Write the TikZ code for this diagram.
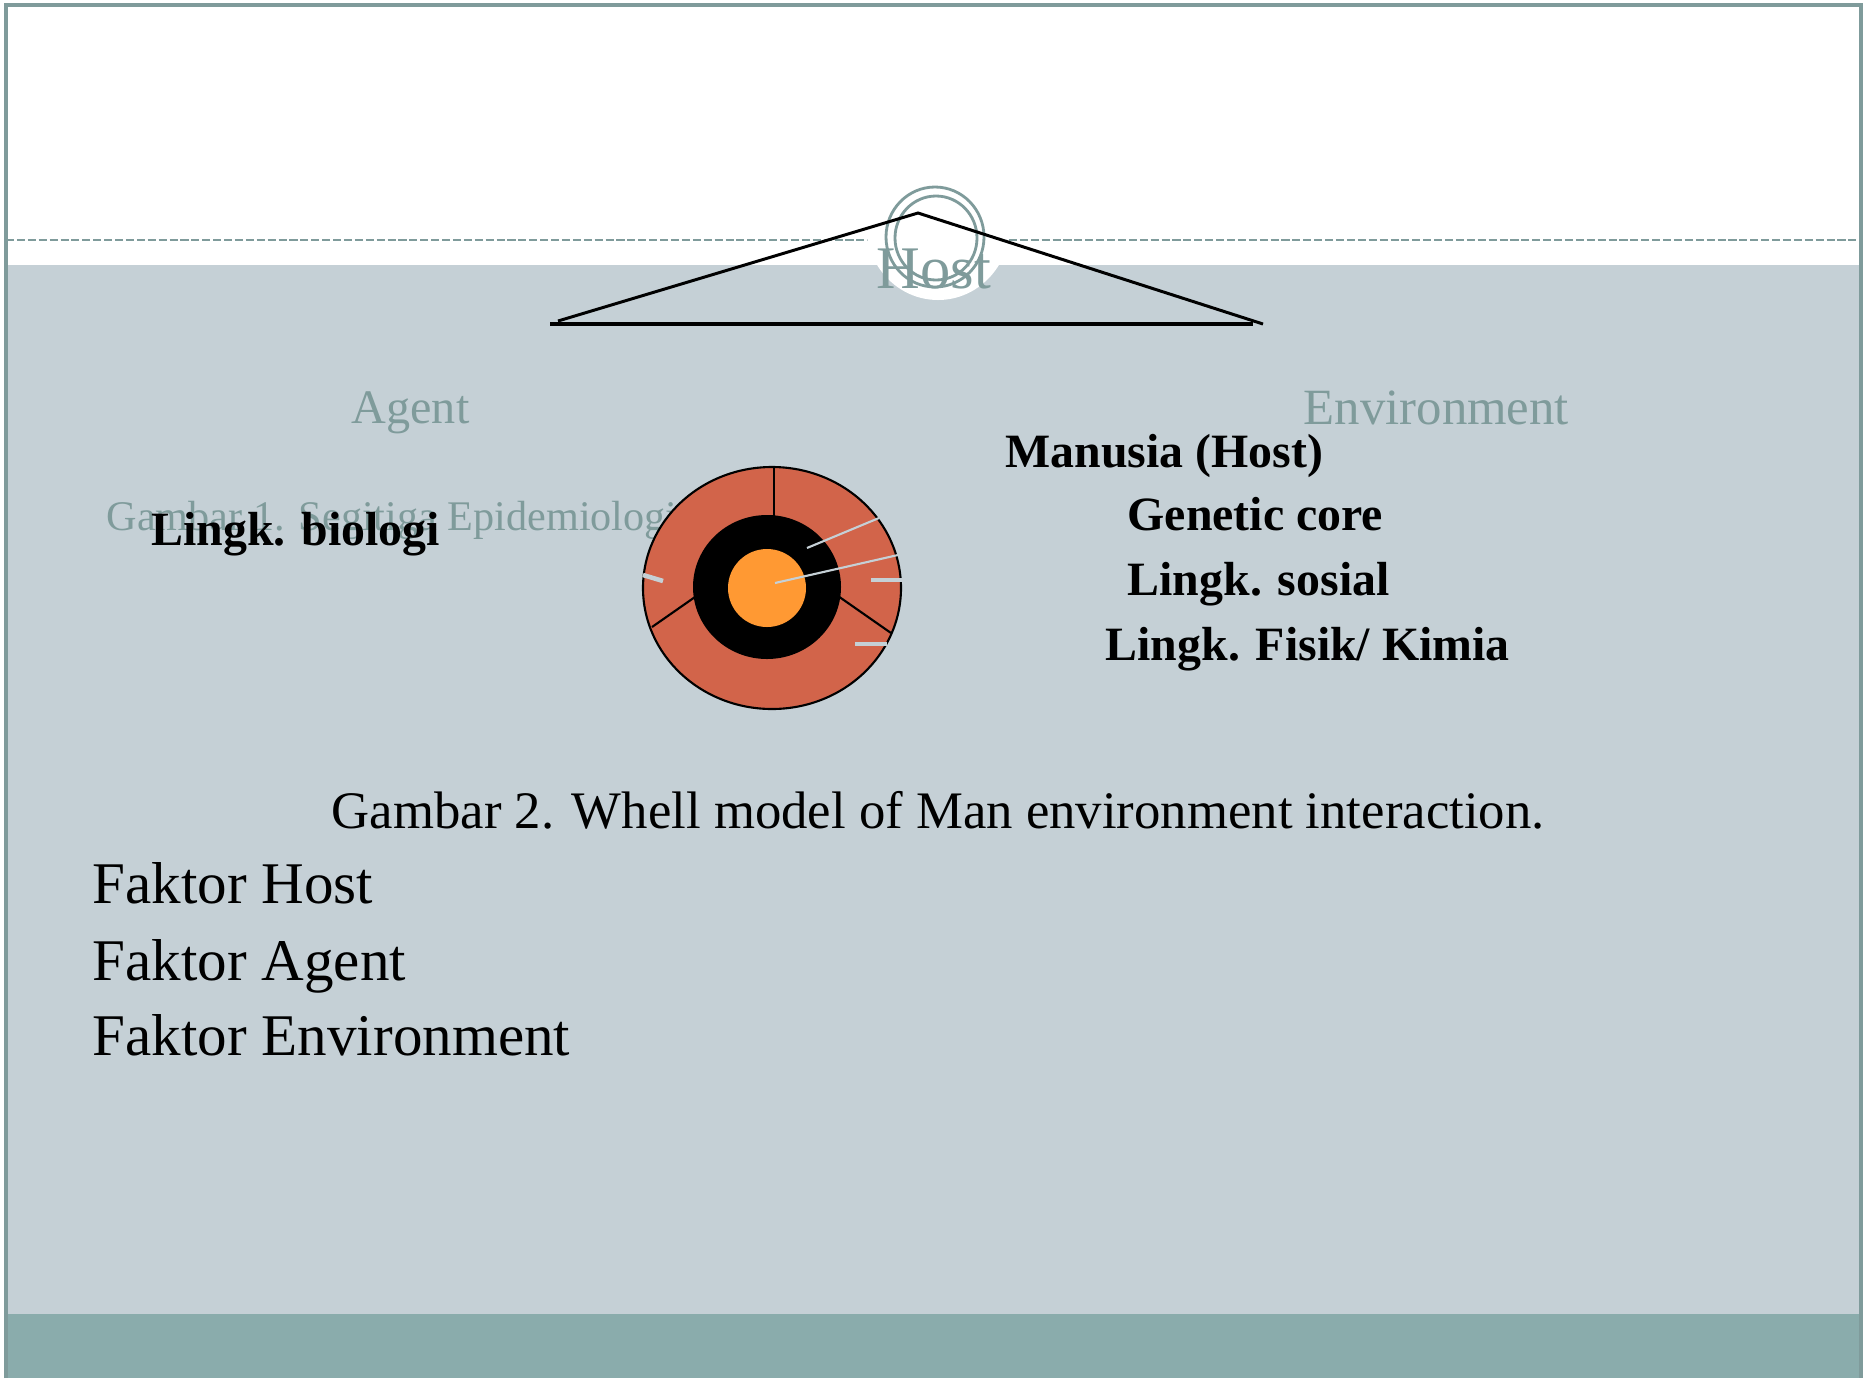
\documentclass[tikz,border=0pt]{standalone}
\usepackage{fontspec}
\setmainfont{Liberation Serif}
\definecolor{slidegray}{RGB}{197,208,214}
\definecolor{slideteal}{RGB}{138,172,172}
\definecolor{frameteal}{RGB}{127,155,155}
\definecolor{wheelred}{RGB}{210,100,74}
\definecolor{coreorange}{RGB}{255,153,51}
\begin{document}
\begin{tikzpicture}[x=0.01cm,y=-0.01cm,
    greytxt/.style={text=frameteal, inner sep=0pt, anchor=base west},
    boldtxt/.style={inner sep=0pt, anchor=base west, font=\fontsize{13.6pt}{16pt}\selectfont\bfseries},
    bodytxt/.style={inner sep=0pt, anchor=base west, font=\fontsize{16.8pt}{19pt}\selectfont},
    spoke/.style={draw=slidegray, line width=0.6pt},
    stub/.style={draw=slidegray, line width=1.3pt}]
        \useasboundingbox (0,0) rectangle (1863,1378);
        % slide background
        \fill[white] (0,0) rectangle (1863,1378);
        \fill[slidegray] (6,265) rectangle (1861,1314);
        \fill[slideteal] (6,1314) rectangle (1863,1378);
        \draw[frameteal, line width=0.9pt] (6,1378) -- (6,5) -- (1861,5) -- (1861,1378);
        \draw[frameteal, line width=0.75pt, dash pattern=on 2.3pt off 0.8pt] (6,240) -- (1861,240);

        % Gambar 1
        \fill[white] (938,225) ellipse [x radius=72, y radius=75];
        \draw[frameteal, line width=0.8pt] (935,237) ellipse [x radius=49, y radius=50];
        \draw[frameteal, line width=0.8pt] (936,238) ellipse [x radius=41, y radius=42];
        \node[greytxt, font=\fontsize{17.2pt}{19pt}\selectfont] (host) at (876,288) {Host};
        \coordinate (apex) at (918,213);
        \coordinate (left) at (558,321);
        \coordinate (right) at (1263,324);
        \coordinate (baseL) at (550,324);
        \coordinate (baseR) at (1253,324);
        \draw[line width=0.85pt] (left) -- (apex) -- (right);
        \draw[line width=0.95pt] (baseL) -- (baseR);
        \node[greytxt, font=\fontsize{13.7pt}{16pt}\selectfont] (agent) at (351,423) {Agent};
        \node[greytxt, font=\fontsize{14.45pt}{16pt}\selectfont] (env) at (1303,424) {Environment};
        \node[greytxt, font=\fontsize{12pt}{14pt}\selectfont] (gambar1) at (106,530) {Gambar 1. Segitiga Epidemiologi};

        % wheel
        \filldraw[fill=wheelred, draw=black, line width=0.6pt] (772,588) ellipse [x radius=129, y radius=121];
        \fill[black] (767,587) ellipse [x radius=74, y radius=72];
        \fill[coreorange] (767,588) circle [radius=39];
        \draw[line width=0.6pt] (774,468) -- (774,516);
        \draw[line width=0.6pt] (652,627) -- (695,597);
        \draw[line width=0.6pt] (838,596) -- (891,633);
        \draw[spoke] (807,548) -- (879,518);
        \draw[spoke] (775,583) -- (898,555);
        \draw[stub] (643,575) -- (663,581);
        \draw[stub] (871,580) -- (902,580);
        \draw[stub] (855,644) -- (887,644);

        \node[boldtxt] (biologi) at (151,545) {Lingk. biologi};
        \node[boldtxt] (manusia) at (1005,467) {Manusia (Host)};
        \node[boldtxt] (genetic) at (1127,530) {Genetic core};
        \node[boldtxt] (sosial) at (1127,595) {Lingk. sosial};
        \node[boldtxt] (fisik) at (1105,660) {Lingk. Fisik/ Kimia};

        \node[inner sep=0pt, anchor=base west, font=\fontsize{15pt}{17pt}\selectfont] (caption) at (331,828) {Gambar 2. Whell model of Man environment interaction.};

        \node[bodytxt] (fhost) at (92,903) {Faktor Host};
        \node[bodytxt] (fagent) at (92,980) {Faktor Agent};
        \node[bodytxt] (fenv) at (92,1055) {Faktor Environment};
\end{tikzpicture}
\end{document}
